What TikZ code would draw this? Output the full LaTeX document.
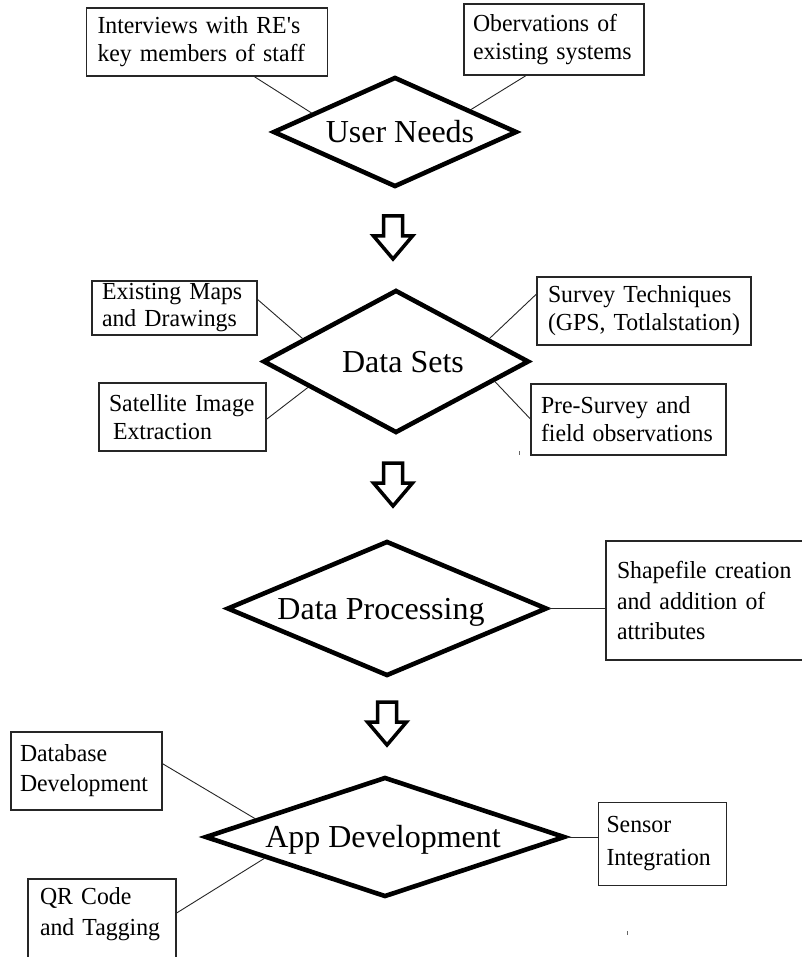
\documentclass[tikz,border=0pt]{standalone}
\usepackage{fontspec}
\setmainfont{Liberation Serif}
\newfontfamily\boxfont{Liberation Serif}[FakeStretch=0.97]
\usetikzlibrary{shapes.geometric,calc}

\tikzset{
  stage/.style={diamond, draw, line width=4.6pt, line join=miter, inner sep=0pt,
    font=\fontsize{32}{38}\selectfont, text height=21.5pt, text depth=0pt},
  infobox/.style={rectangle, draw=black!85, line width=1.6pt, inner ysep=0pt,
    align=left, font=\boxfont\fontsize{24.5}{28}\selectfont},
  link/.style={line width=0.9pt, draw=black!85},
  speck/.style={fill=black!60},
  pics/blockdown/.style={code={
    \draw[line width=3.5pt, line join=miter, fill=white]
      (-9.5,-43) -- (9.5,-43) -- (9.5,-23) -- (19.5,-23) -- (0,0)
      -- (-19.5,-23) -- (-9.5,-23) -- cycle;
  }}
}

\begin{document}
\begin{tikzpicture}[x=1pt, y=-1pt]
\useasboundingbox (0,0) rectangle (801,957);
\fill[white] (0,0) rectangle (801,957);

% --- process stages ---
\node[stage, aspect=2.218, minimum width=244pt, minimum height=110pt] (un) at (395,132)
  {\hspace*{10pt}User Needs};
\node[stage, aspect=1.860, minimum width=266pt, minimum height=143pt] (ds) at (396,361.5)
  {\hspace*{14pt}Data Sets};
\node[stage, aspect=2.370, minimum width=320pt, minimum height=135pt] (dp) at (387,608.5)
  {Data Processing\hspace*{12pt}};
\node[stage, aspect=3.000, minimum width=360pt, minimum height=120pt] (ad) at (385,837)
  {App Development\hspace*{4pt}};

% --- flow arrows between stages ---
\pic at (393,259) {blockdown};
\pic at (393,506) {blockdown};
\pic at (387,745) {blockdown};

% --- inputs to each stage ---
\node[infobox, minimum width=241pt, minimum height=68pt, text width=219pt, inner xsep=11pt]
  (iv) at (207,42) {\mbox{Interviews with RE\textquotesingle s}\\\mbox{key members of staff}};
\node[infobox, minimum width=180pt, minimum height=71pt, text width=162pt, inner xsep=9pt]
  (ob) at (554,39.5) {\mbox{Obervations of}\\\mbox{existing systems}};

\node[infobox, minimum width=165pt, minimum height=54pt, text width=145pt, inner xsep=10pt,
  font=\boxfont\fontsize{24.5}{27}\selectfont]
  (em) at (174.5,308) {\mbox{Existing Maps}\\\mbox{and Drawings}};
\node[infobox, minimum width=214pt, minimum height=68pt, text width=192pt, inner xsep=11pt]
  (st) at (644,311) {\mbox{Survey Techniques}\\\mbox{(GPS, Totlalstation)}};
\node[infobox, minimum width=167pt, minimum height=68pt, text width=147pt, inner xsep=10pt]
  (si) at (182.5,417) {\mbox{Satellite Image}\\\mbox{\hspace{4pt}Extraction}};
\node[infobox, minimum width=195pt, minimum height=71pt, text width=175pt, inner xsep=10pt]
  (ps) at (628.5,419.5) {\mbox{Pre-Survey and}\\\mbox{field observations}};

\node[infobox, minimum width=199pt, minimum height=119pt, text width=177pt, inner xsep=11pt,
  font=\boxfont\fontsize{24.5}{30.5}\selectfont]
  (sf) at (705.5,600.5) {\mbox{Shapefile creation}\\\mbox{and addition of}\\\mbox{attributes}};

\node[infobox, minimum width=151pt, minimum height=78pt, text width=133pt, inner xsep=9pt,
  font=\boxfont\fontsize{24.5}{30}\selectfont]
  (db) at (86.5,771) {\mbox{Database}\\\mbox{Development}};
\node[infobox, minimum width=128pt, minimum height=83pt, text width=112pt, inner xsep=8pt,
  font=\boxfont\fontsize{24.5}{33}\selectfont]
  (se) at (662.5,844) {\mbox{Sensor}\\\mbox{Integration}};
\node[infobox, minimum width=148pt, minimum height=83pt, text width=124pt, inner xsep=12pt,
  font=\boxfont\fontsize{24.5}{31}\selectfont, text depth=50pt]
  (qr) at (102,920.5) {\mbox{QR Code}\\\mbox{and Tagging}};

% --- links from inputs to stages ---
\draw[link] ($(iv.south west)!0.696!(iv.south east)$) -- ($(un.west)!0.33!(un.north)$);
\draw[link] ($(ob.south west)!0.344!(ob.south east)$) -- ($(un.north)!0.61!(un.east)$);

\draw[link] ($(em.north east)!0.35!(em.south east)$) -- ($(ds.west)!0.31!(ds.north)$);
\draw[link] ($(st.north west)!0.26!(st.south west)$) -- ($(ds.north)!0.69!(ds.east)$);
\draw[link] ($(si.north east)!0.53!(si.south east)$) -- ($(ds.west)!0.35!(ds.south)$);
\draw[link] ($(ps.north west)!0.49!(ps.south west)$) -- ($(ds.east)!0.27!(ds.south)$);

\draw[link] (dp.east) -- (dp.east -| sf.west);

\draw[link] ($(db.north east)!0.41!(db.south east)$) -- ($(ad.west)!0.29!(ad.north)$);
\draw[link] ($(qr.north east)!0.41!(qr.south east)$) -- ($(ad.west)!0.34!(ad.south)$);
\draw[link] (ad.east) -- (ad.east -| se.west);

% --- small specks ---
\fill[speck] (518.5,451) rectangle (520,455);
\fill[speck] (626.5,931) rectangle (628,935);
\end{tikzpicture}
\end{document}
